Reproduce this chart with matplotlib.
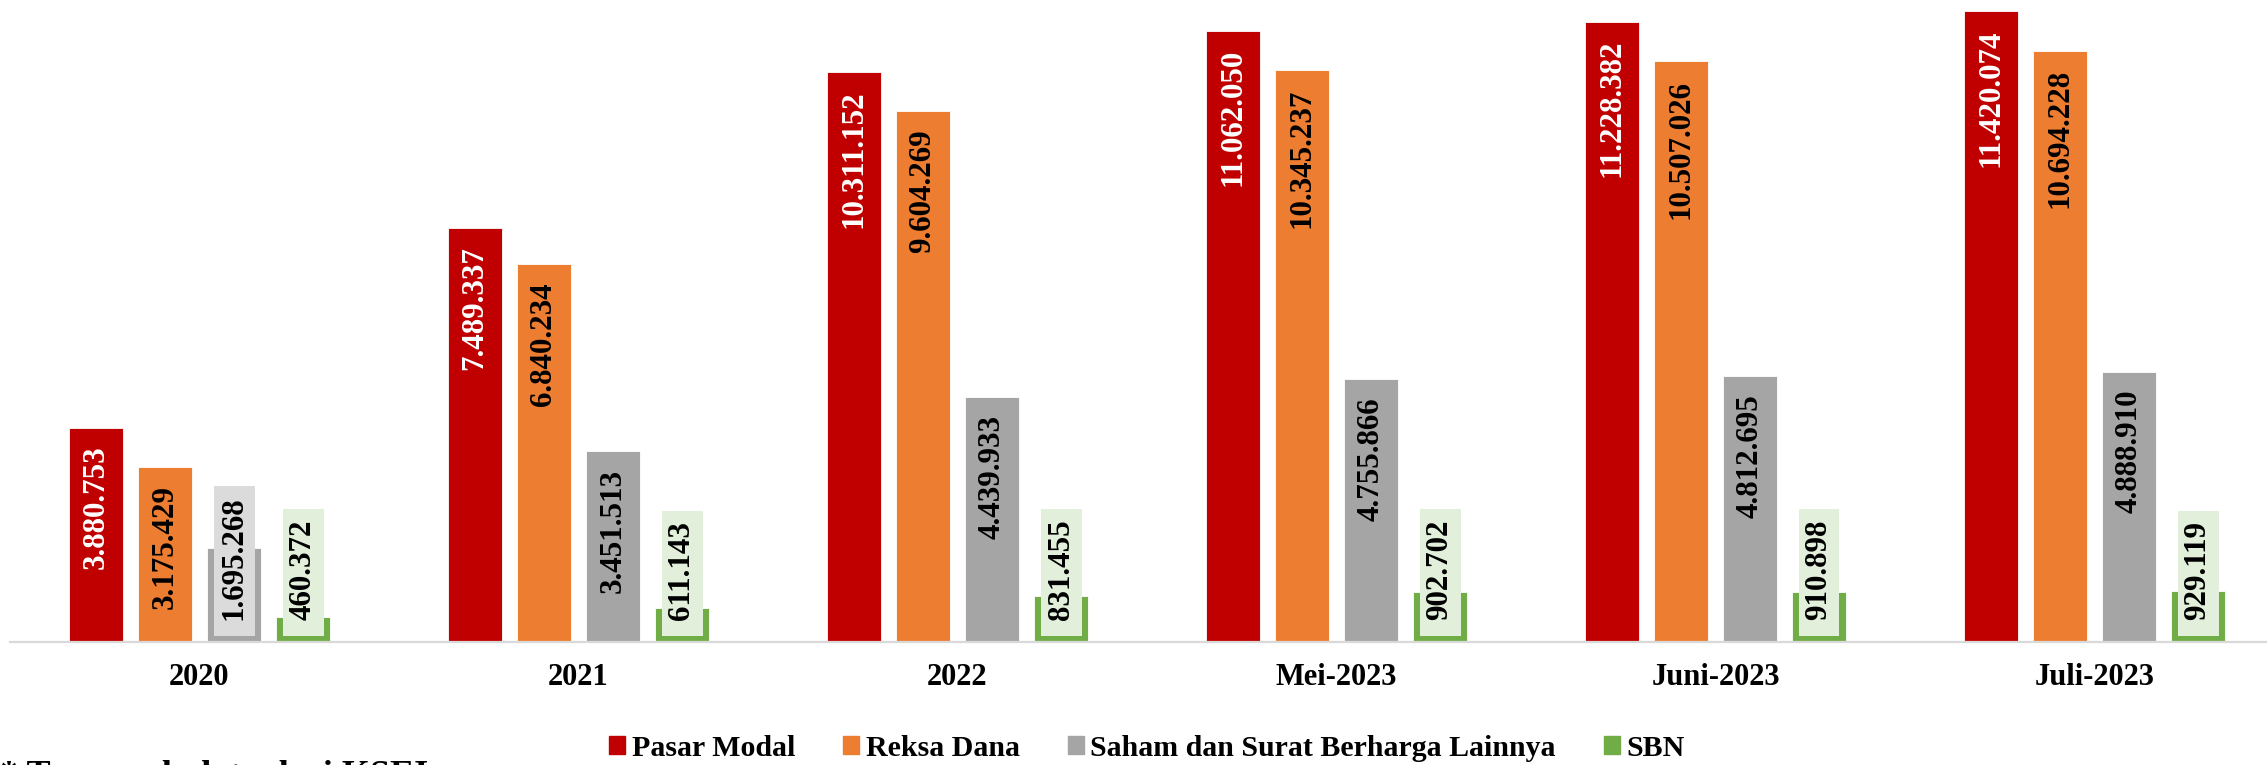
import matplotlib
matplotlib.use('Agg')
import matplotlib.pyplot as plt
import matplotlib.patches as mpatches
import matplotlib.transforms as mtrans
import numpy as np

plt.rcParams['font.family'] = ['Liberation Serif', 'DejaVu Serif']
plt.rcParams['font.weight'] = 'bold'

# data (jumlah investor)
categories = ['2020', '2021', '2022', 'Mei-2023', 'Juni-2023', 'Juli-2023']
series_names = ['Pasar Modal', 'Reksa Dana', 'Saham dan Surat Berharga Lainnya', 'SBN']
pasar_modal = [3880753, 7489337, 10311152, 11062050, 11228382, 11420074]
reksa_dana = [3175429, 6840234, 9604269, 10345237, 10507026, 10694228]
saham = [1695268, 3451513, 4439933, 4755866, 4812695, 4888910]
sbn = [460372, 611143, 831455, 902702, 910898, 929119]

colors = ['#c00000', '#ed7d31', '#a5a5a5', '#70ad47']
text_colors = ['white', 'black', 'black', 'black']
box_colors = ['#f2d0d0', '#fbe5d6', '#dbdbdb', '#e2efda']
footnote = '* Termasuk data dari KSEI'

W, H = 2267, 765
fig = plt.figure(figsize=(W / 100, H / 100), dpi=100)
ax = fig.add_axes([10 / W, 123 / H, 1 - 10 / W, 642 / H])

pitch = 379.0
bar_step = 69 / pitch
bar_w = 54 / pitch
x = np.arange(len(categories))

all_series = [pasar_modal, reksa_dana, saham, sbn]
bar_groups = []
for i, vals in enumerate(all_series):
    off = (i - 1.5) * bar_step
    b = ax.bar(x + off, vals, width=bar_w, color=colors[i], edgecolor='white',
               linewidth=0.6, zorder=2)
    bar_groups.append(b)

ax.set_xlim(-0.5, -0.5 + (W - 10) / pitch)
ax.set_ylim(0, 11.62e6)
ax.set_xticks(x, categories)
ax.tick_params(axis='x', length=0, pad=15, labelsize=22)
ax.set_yticks([])
for s in ['left', 'top', 'right']:
    ax.spines[s].set_visible(False)
ax.spines['bottom'].set_color('#d9d9d9')
ax.spines['bottom'].set_linewidth(1.6)

def fmt(v):
    return f'{v:,}'.replace(',', '.')

# labels: first try inside end
labels = []
for i, vals in enumerate(all_series):
    for j, v in enumerate(vals):
        bar = bar_groups[i][j]
        xc = bar.get_x() + bar.get_width() / 2
        t = ax.annotate(fmt(v), xy=(xc, v), xytext=(0, -13), textcoords='offset points',
                        rotation=90, ha='center', va='top', fontsize=22.3,
                        color=text_colors[i], zorder=5)
        labels.append((i, j, t, bar))

fig.canvas.draw()
renderer = fig.canvas.get_renderer()
for i, j, t, bar in labels:
    bb = t.get_window_extent(renderer)
    bbar = bar.get_window_extent(renderer)
    if bb.height + 36 > bbar.height:
        # too long for the bar -> label at the base with a filled box
        t.xy = (t.xy[0], 0)
        t.set_position((0, 16))
        t.set_va('bottom')
        t.set_color('black')

fig.canvas.draw()
for i, j, t, bar in labels:
    if t.get_va() != 'bottom':
        continue
    bb = t.get_window_extent(renderer)
    bbar = bar.get_window_extent(renderer)
    x0 = bbar.x0 + 6.5
    y0 = bbar.y0 + 6
    rect = mpatches.Rectangle((x0, y0), bbar.width - 13, bb.y1 + 10 - y0,
                              transform=mtrans.IdentityTransform(),
                              facecolor=box_colors[i], edgecolor='none', zorder=3)
    ax.add_artist(rect)

handles = [mpatches.Patch(color=c) for c in colors]
fig.legend(handles, series_names, loc='center', bbox_to_anchor=(0.506, 0.0222), ncol=4,
           frameon=False, fontsize=21.5, handlelength=0.53, handleheight=0.53,
           handletextpad=0.23, columnspacing=1.6, borderaxespad=0, borderpad=0)

# footnote, cut by the bottom edge like in the source image
fig.text(0, (H - 785) / H, footnote, fontsize=26, ha='left', va='baseline')

fig.savefig('out.png', dpi=100)
